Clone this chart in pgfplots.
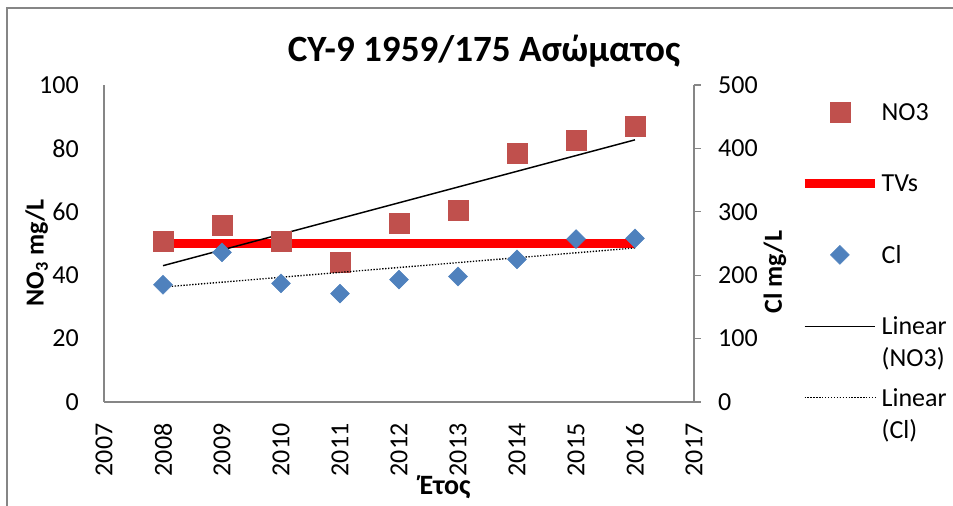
\documentclass[border=0pt]{standalone}
\usepackage{fontspec}
\setmainfont{Carlito}
\usepackage{pgfplots}
\pgfplotsset{compat=1.18}
\definecolor{no3red}{HTML}{C0504D}
\definecolor{clblue}{HTML}{4F81BD}
\definecolor{axgray}{HTML}{868686}
\newcommand{\lbl}{\fontsize{19.5}{24}\selectfont}

\pgfplotstableread{
year no3
2008 50.6
2009 55.8
2010 50.7
2011 44.1
2012 56.5
2013 60.4
2014 78.5
2015 82.6
2016 87.1
}\noiiitable

\pgfplotstableread{
year cl
2008 185
2009 236
2010 187
2011 171
2012 193
2013 198
2014 225
2015 257
2016 258
}\cltable

\begin{document}
\begin{tikzpicture}
\useasboundingbox (-78pt,-78pt) rectangle (636.75pt,301.5pt);
\draw[axgray, line width=1.5pt] (-72.75pt,-90pt) -- (-72.75pt,295.5pt) -- (650pt,295.5pt);

\begin{axis}[
  scale only axis, width=442.5pt, height=237.75pt,
  at={(0pt,0pt)}, anchor=south west,
  xmin=2007, xmax=2017, ymin=0, ymax=100,
  axis x line*=bottom, axis y line*=left,
  axis line style={axgray, line width=1pt},
  xtick={2007,2008,...,2017}, ytick={0,20,...,100},
  major tick length=0pt,
  font=\lbl,
  /pgf/number format/assume math mode=true,
  x tick label style={/pgf/number format/1000 sep={}, rotate=90, anchor=east, inner sep=0pt},
  xticklabel shift=16pt,
  y tick label style={anchor=east, inner sep=0pt},
  yticklabel shift=18.75pt,
  title={\bfseries CY-9 1959/175 Ασώματος},
  title style={at={(axis description cs:0.644,1.049)}, anchor=base, font=\fontsize{27.8}{33}\selectfont, inner sep=0pt},
  xlabel={\bfseries Έτος},
  xlabel style={at={(axis description cs:0.578,-0.293)}, anchor=base, inner sep=0pt, font=\fontsize{21}{25}\selectfont},
  ylabel={\bfseries NO\textsubscript{3} mg/L},
  ylabel style={at={(axis description cs:-0.114,0.47)}, anchor=center, inner sep=0pt, font=\fontsize{19.5}{24}\selectfont},
  clip=false,
]
\addplot[red, line width=6.75pt, forget plot] coordinates {(2008,50) (2016,50)};
\addplot[only marks, mark=square*, mark size=7.5pt, color=no3red, mark options={draw=no3red, fill=no3red}] table[x=year, y=no3] {\noiiitable};
\addplot[black, line width=1.1pt] coordinates {(2008,43.0) (2016,82.7)};
\end{axis}

\begin{axis}[
  scale only axis, width=442.5pt, height=237.75pt,
  at={(0pt,0pt)}, anchor=south west,
  xmin=2007, xmax=2017, ymin=0, ymax=500,
  axis x line=none, axis y line*=right,
  axis line style={axgray, line width=1pt},
  ytick={0,100,...,500},
  ytick style={axgray, line width=1pt},
  tick align=outside, major tick length=5.25pt,
  font=\lbl,
  /pgf/number format/assume math mode=true,
  y tick label style={anchor=west, inner sep=0pt},
  yticklabel shift=12.75pt,
  ylabel={\bfseries Cl mg/L},
  ylabel style={at={(axis description cs:1.137,0.41)}, anchor=center, inner sep=0pt, font=\fontsize{19.5}{24}\selectfont},
  clip=false,
  legend image code/.code={\draw[mark repeat=2,mark phase=2,#1] plot coordinates {(0pt,0pt) (26.5pt,0pt) (53pt,0pt)};},
  legend cell align=left,
  legend style={at={(axis description cs:1.1797,0.9486)}, anchor=north west, draw=none, fill=none, inner sep=0pt, outer sep=0pt, row sep=37.6pt, column sep=1.5pt, font=\lbl, nodes={text height=14.3pt, text depth=1.7pt, inner sep=0pt}},
]
\addlegendimage{only marks, mark=square*, mark size=7.5pt, color=no3red, mark options={draw=no3red, fill=no3red}}
\addlegendentry{NO3}
\addlegendimage{red, line width=6.75pt}
\addlegendentry{TVs}
\addplot[only marks, mark=square*, mark size=5pt, color=clblue, mark options={draw=clblue, fill=clblue, rotate=45}] table[x=year, y=cl] {\cltable};
\addlegendentry{Cl}
\addlegendimage{black, line width=1.1pt}
\addlegendentry{\begin{tabular}[t]{@{}l@{}}Linear\\(NO3)\end{tabular}}
\addplot[black, line width=1pt, dash pattern=on 1pt off 1.2pt] coordinates {(2008,181.3) (2016,243.0)};
\addlegendentry{\begin{tabular}[t]{@{}l@{}}Linear\\(Cl)\end{tabular}}
\end{axis}
\end{tikzpicture}
\end{document}
